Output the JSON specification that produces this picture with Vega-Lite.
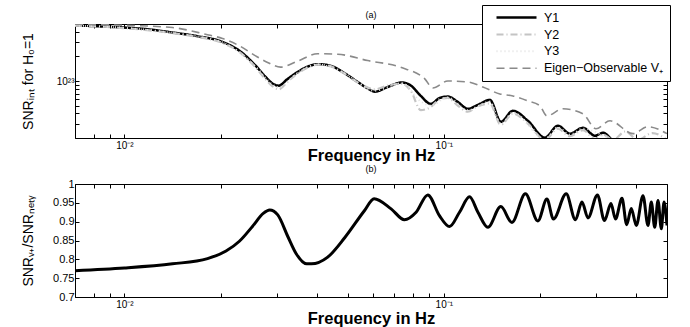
{
  "$schema": "https://vega.github.io/schema/vega-lite/v6.json",
  "padding": {"left": 20, "top": 4, "right": 5, "bottom": 2},
  "config": {
    "font": "Liberation Sans",
    "view": {"stroke": "black", "strokeWidth": 1},
    "axis": {"grid": false, "domain": false, "tickColor": "black", "tickSize": -4, "labelFontSize": 10, "labelColor": "black", "labelFont": "Liberation Sans", "titleFont": "Liberation Sans", "titleColor": "black", "titleFontWeight": "normal"},
    "title": {"fontSize": 9, "fontWeight": "normal", "offset": 4, "font": "Liberation Sans", "color": "black"}
  },
  "datasets": {
    "top": [
      {"s":"Y1","f":0.007,"v":4.82e23},{"s":"Y1","f":0.00823,"v":4.69e23},{"s":"Y1","f":0.01,"v":4.52e23},{"s":"Y1","f":0.0118,"v":4.31e23},{"s":"Y1","f":0.01414,"v":3.93e23},{"s":"Y1","f":0.01694,"v":3.54e23},{"s":"Y1","f":0.02028,"v":3.01e23},{"s":"Y1","f":0.02294,"v":2.34e23},{"s":"Y1","f":0.02575,"v":1.54e23},{"s":"Y1","f":0.02767,"v":1.12e23},{"s":"Y1","f":0.0291,"v":9.32e22},{"s":"Y1","f":0.03039,"v":8.76e22},{"s":"Y1","f":0.03243,"v":1.06e23},{"s":"Y1","f":0.03486,"v":1.29e23},{"s":"Y1","f":0.03747,"v":1.5e23},{"s":"Y1","f":0.04027,"v":1.61e23},{"s":"Y1","f":0.04391,"v":1.55e23},{"s":"Y1","f":0.04824,"v":1.29e23},{"s":"Y1","f":0.05376,"v":9.72e22},{"s":"Y1","f":0.05778,"v":8.1e22},{"s":"Y1","f":0.06076,"v":7.4e22},{"s":"Y1","f":0.06676,"v":8.45e22},{"s":"Y1","f":0.07383,"v":9.59e22},{"s":"Y1","f":0.0788,"v":8.81e22},{"s":"Y1","f":0.08472,"v":6.56e22},{"s":"Y1","f":0.09105,"v":5.24e22},{"s":"Y1","f":0.09716,"v":6.21e22},{"s":"Y1","f":0.1029,"v":6.44e22},{"s":"Y1","f":0.1106,"v":5.54e22},{"s":"Y1","f":0.1189,"v":4.56e22},{"s":"Y1","f":0.1279,"v":5.1e22},{"s":"Y1","f":0.1394,"v":5.87e22},{"s":"Y1","f":0.1509,"v":3.16e22},{"s":"Y1","f":0.1646,"v":4.31e22},{"s":"Y1","f":0.1834,"v":3.25e22},{"s":"Y1","f":0.2073,"v":2.02e22},{"s":"Y1","f":0.2277,"v":2.83e22},{"s":"Y1","f":0.2483,"v":2.26e22},{"s":"Y1","f":0.2728,"v":2.67e22},{"s":"Y1","f":0.2974,"v":2.13e22},{"s":"Y1","f":0.3151,"v":2.32e22},{"s":"Y1","f":0.3387,"v":1.85e22},{"s":"Y1","f":0.4057,"v":1.4e22},{"s":"Y1","f":0.5,"v":1.06e22},
      {"s":"Y2","f":0.007,"v":4.78e23},{"s":"Y2","f":0.01,"v":4.45e23},{"s":"Y2","f":0.01414,"v":3.86e23},{"s":"Y2","f":0.01694,"v":3.47e23},{"s":"Y2","f":0.02028,"v":2.93e23},{"s":"Y2","f":0.02294,"v":2.26e23},{"s":"Y2","f":0.02575,"v":1.47e23},{"s":"Y2","f":0.02767,"v":1.05e23},{"s":"Y2","f":0.0291,"v":8.6e22},{"s":"Y2","f":0.03039,"v":7.9e22},{"s":"Y2","f":0.03243,"v":9.8e22},{"s":"Y2","f":0.03486,"v":1.24e23},{"s":"Y2","f":0.03747,"v":1.46e23},{"s":"Y2","f":0.04027,"v":1.59e23},{"s":"Y2","f":0.04391,"v":1.53e23},{"s":"Y2","f":0.04824,"v":1.27e23},{"s":"Y2","f":0.05376,"v":9.6e22},{"s":"Y2","f":0.05778,"v":8.3e22},{"s":"Y2","f":0.06076,"v":7.9e22},{"s":"Y2","f":0.06676,"v":8.8e22},{"s":"Y2","f":0.07383,"v":9.3e22},{"s":"Y2","f":0.0788,"v":7.6e22},{"s":"Y2","f":0.08472,"v":4.4e22},{"s":"Y2","f":0.09105,"v":4.8e22},{"s":"Y2","f":0.09716,"v":6.0e22},{"s":"Y2","f":0.1029,"v":6.2e22},{"s":"Y2","f":0.1106,"v":5.0e22},{"s":"Y2","f":0.1189,"v":4.2e22},{"s":"Y2","f":0.1279,"v":4.9e22},{"s":"Y2","f":0.1394,"v":5.3e22},{"s":"Y2","f":0.1509,"v":2.9e22},{"s":"Y2","f":0.1646,"v":4.0e22},{"s":"Y2","f":0.1834,"v":3.0e22},{"s":"Y2","f":0.2073,"v":1.9e22},{"s":"Y2","f":0.2277,"v":2.6e22},{"s":"Y2","f":0.2483,"v":2.1e22},{"s":"Y2","f":0.2728,"v":2.5e22},{"s":"Y2","f":0.2974,"v":1.95e22},{"s":"Y2","f":0.3151,"v":2.2e22},{"s":"Y2","f":0.3387,"v":1.9e22},{"s":"Y2","f":0.37,"v":2.4e22},{"s":"Y2","f":0.4057,"v":1.9e22},{"s":"Y2","f":0.45,"v":2.3e22},{"s":"Y2","f":0.5,"v":1.9e22},
      {"s":"Y3","f":0.007,"v":4.8e23},{"s":"Y3","f":0.01,"v":4.48e23},{"s":"Y3","f":0.01414,"v":3.89e23},{"s":"Y3","f":0.02028,"v":2.97e23},{"s":"Y3","f":0.02575,"v":1.5e23},{"s":"Y3","f":0.0291,"v":9.0e22},{"s":"Y3","f":0.03039,"v":8.4e22},{"s":"Y3","f":0.03486,"v":1.26e23},{"s":"Y3","f":0.04027,"v":1.6e23},{"s":"Y3","f":0.04824,"v":1.28e23},{"s":"Y3","f":0.06076,"v":7.6e22},{"s":"Y3","f":0.07383,"v":9.4e22},{"s":"Y3","f":0.08472,"v":5.6e22},{"s":"Y3","f":0.09105,"v":5.0e22},{"s":"Y3","f":0.1029,"v":6.3e22},{"s":"Y3","f":0.1189,"v":4.4e22},{"s":"Y3","f":0.1394,"v":5.6e22},{"s":"Y3","f":0.1509,"v":3.0e22},{"s":"Y3","f":0.1646,"v":4.1e22},{"s":"Y3","f":0.2073,"v":1.95e22},{"s":"Y3","f":0.2277,"v":2.7e22},{"s":"Y3","f":0.2483,"v":2.2e22},{"s":"Y3","f":0.2728,"v":2.6e22},{"s":"Y3","f":0.3387,"v":1.9e22},{"s":"Y3","f":0.5,"v":1.5e22},
      {"s":"Eigen−Observable V₊","f":0.007,"v":4.96e23},{"s":"Eigen−Observable V₊","f":0.01,"v":4.82e23},{"s":"Eigen−Observable V₊","f":0.01414,"v":4.52e23},{"s":"Eigen−Observable V₊","f":0.01794,"v":3.74e23},{"s":"Eigen−Observable V₊","f":0.02028,"v":3.32e23},{"s":"Eigen−Observable V₊","f":0.02294,"v":2.69e23},{"s":"Eigen−Observable V₊","f":0.02575,"v":2.03e23},{"s":"Eigen−Observable V₊","f":0.02807,"v":1.69e23},{"s":"Eigen−Observable V₊","f":0.03083,"v":1.48e23},{"s":"Eigen−Observable V₊","f":0.03486,"v":1.75e23},{"s":"Eigen−Observable V₊","f":0.04027,"v":2.16e23},{"s":"Eigen−Observable V₊","f":0.04653,"v":2.13e23},{"s":"Eigen−Observable V₊","f":0.05778,"v":1.78e23},{"s":"Eigen−Observable V₊","f":0.0733,"v":1.47e23},{"s":"Eigen−Observable V₊","f":0.08719,"v":1.06e23},{"s":"Eigen−Observable V₊","f":0.09237,"v":8.22e22},{"s":"Eigen−Observable V₊","f":0.1029,"v":1.0e23},{"s":"Eigen−Observable V₊","f":0.1189,"v":9.72e22},{"s":"Eigen−Observable V₊","f":0.1325,"v":8.45e22},{"s":"Eigen−Observable V₊","f":0.1498,"v":6.94e22},{"s":"Eigen−Observable V₊","f":0.1646,"v":6.56e22},{"s":"Eigen−Observable V₊","f":0.1834,"v":5.7e22},{"s":"Eigen−Observable V₊","f":0.2,"v":4.96e22},{"s":"Eigen−Observable V₊","f":0.2103,"v":3.74e22},{"s":"Eigen−Observable V₊","f":0.236,"v":4.56e22},{"s":"Eigen−Observable V₊","f":0.2728,"v":3.96e22},{"s":"Eigen−Observable V₊","f":0.2996,"v":2.6e22},{"s":"Eigen−Observable V₊","f":0.3315,"v":3.25e22},{"s":"Eigen−Observable V₊","f":0.3913,"v":2.26e22},{"s":"Eigen−Observable V₊","f":0.436,"v":2.75e22},{"s":"Eigen−Observable V₊","f":0.5,"v":2.26e22}
    ],
    "bottom": [
      {"f":0.007,"r":0.77},{"f":0.01,"r":0.777},{"f":0.01414,"r":0.788},{"f":0.0182,"r":0.802},{"f":0.0208,"r":0.822},{"f":0.0229,"r":0.848},{"f":0.0252,"r":0.888},{"f":0.0272,"r":0.922},{"f":0.0285,"r":0.931},{"f":0.0302,"r":0.918},{"f":0.0325,"r":0.86},{"f":0.0345,"r":0.815},{"f":0.0372,"r":0.788},{"f":0.0385,"r":0.788},{"f":0.0433,"r":0.806},{"f":0.049,"r":0.858},{"f":0.0564,"r":0.929},{"f":0.0605,"r":0.961},{"f":0.0684,"r":0.934},{"f":0.0753,"r":0.905},{"f":0.0819,"r":0.925},{"f":0.0891,"r":0.971},{"f":0.0969,"r":0.916},{"f":0.1042,"r":0.887},{"f":0.112,"r":0.925},{"f":0.1204,"r":0.966},{"f":0.1279,"r":0.925},{"f":0.1374,"r":0.885},{"f":0.1509,"r":0.94},{"f":0.1634,"r":0.898},{"f":0.1801,"r":0.974},{"f":0.1971,"r":0.902},{"f":0.2103,"r":0.96},{"f":0.2204,"r":0.907},{"f":0.2417,"r":0.974},{"f":0.2584,"r":0.905},{"f":0.2708,"r":0.952},{"f":0.2828,"r":0.91},{"f":0.3028,"r":0.971},{"f":0.3185,"r":0.903},{"f":0.3338,"r":0.948},{"f":0.3448,"r":0.907},{"f":0.3614,"r":0.962},{"f":0.3739,"r":0.892},{"f":0.3865,"r":0.935},{"f":0.4007,"r":0.89},{"f":0.4205,"r":0.969},{"f":0.436,"r":0.89},{"f":0.4465,"r":0.952},{"f":0.4576,"r":0.885},{"f":0.4686,"r":0.956},{"f":0.48,"r":0.881},{"f":0.4895,"r":0.952},{"f":0.5,"r":0.89}
    ]
  },
  "spacing": 46,
  "bounds": "flush",
  "vconcat": [
    {
      "width": 592,
      "height": 114,
      "title": {"text": "(a)"},
      "data": {"name": "top"},
      "layer": [
        {
          "mark": {"type": "line", "clip": true, "interpolate": "monotone"},
          "encoding": {
            "x": {"field": "f", "type": "quantitative", "scale": {"type": "log", "domain": [0.007, 0.5], "nice": false},
              "axis": {"values": [0.007,0.008,0.009,0.01,0.02,0.03,0.04,0.05,0.06,0.07,0.08,0.09,0.1,0.2,0.3,0.4,0.5], "labelExpr": "datum.value == 0.01 ? '10⁻²' : (datum.value == 0.1 ? '10⁻¹' : '')", "labelPadding": 6, "title": "Frequency in Hz", "titleFontSize": 16.5, "titleFontWeight": "bold", "titleBaseline": "alphabetic", "titleY": 22}},
            "y": {"field": "v", "type": "quantitative", "scale": {"type": "log", "domain": [2e22, 5e23], "nice": false},
              "axis": {"values": [2e22,3e22,4e22,5e22,6e22,7e22,8e22,9e22,1e23,2e23,3e23,4e23,5e23], "labelExpr": "datum.value == 1e23 ? '10²³' : ''", "labelPadding": 5, "title": "SNRᵢₙₜ for H₀=1", "titleFontSize": 14, "titleBaseline": "middle", "titleX": -47}},
            "color": {"field": "s", "type": "nominal", "scale": {"domain": ["Y1","Y2","Y3","Eigen−Observable V₊"], "range": ["#000000","#c4c4c4","#e2e2e2","#8a8a8a"]},
              "legend": {"orient": "none", "legendX": 407, "legendY": -19, "title": null, "strokeColor": "black", "fillColor": "white", "padding": 6, "rowPadding": 4, "symbolType": "M-4,0H4", "symbolSize": 100, "symbolOffset": 22, "labelOffset": 21, "labelFontSize": 12.5, "labelFont": "Liberation Sans", "labelColor": "black", "labelLimit": 300}},
            "strokeDash": {"field": "s", "type": "nominal", "scale": {"domain": ["Y1","Y2","Y3","Eigen−Observable V₊"], "range": [[1,0],[7,3,1,3],[1,3],[8,5]]}},
            "strokeWidth": {"field": "s", "type": "nominal", "scale": {"domain": ["Y1","Y2","Y3","Eigen−Observable V₊"], "range": [2.5,1.6,1.6,2.2]}}
          }
        },
        {
          "mark": {"type": "line", "strokeOpacity": 0},
          "encoding": {
            "x": {"field": "f", "type": "quantitative", "axis": {"orient": "top", "values": [0.007,0.008,0.009,0.01,0.02,0.03,0.04,0.05,0.06,0.07,0.08,0.09,0.1,0.2,0.3,0.4,0.5], "labels": false, "title": null}},
            "y": {"field": "v", "type": "quantitative", "axis": {"orient": "right", "values": [2e22,3e22,4e22,5e22,6e22,7e22,8e22,9e22,1e23,2e23,3e23,4e23,5e23], "labels": false, "title": null}}
          }
        }
      ],
      "resolve": {"axis": {"x": "independent", "y": "independent"}}
    },
    {
      "width": 592,
      "height": 113,
      "title": {"text": "(b)"},
      "data": {"name": "bottom"},
      "layer": [
        {
          "mark": {"type": "line", "clip": true, "interpolate": "monotone", "color": "black", "strokeWidth": 3},
          "encoding": {
            "x": {"field": "f", "type": "quantitative", "scale": {"type": "log", "domain": [0.007, 0.5], "nice": false},
              "axis": {"values": [0.007,0.008,0.009,0.01,0.02,0.03,0.04,0.05,0.06,0.07,0.08,0.09,0.1,0.2,0.3,0.4,0.5], "labelExpr": "datum.value == 0.01 ? '10⁻²' : (datum.value == 0.1 ? '10⁻¹' : '')", "labelPadding": 6, "title": "Frequency in Hz", "titleFontSize": 16.5, "titleFontWeight": "bold", "titleBaseline": "alphabetic", "titleY": 26}},
            "y": {"field": "r", "type": "quantitative", "scale": {"domain": [0.7, 1], "nice": false},
              "axis": {"values": [0.7,0.75,0.8,0.85,0.9,0.95,1], "format": "~g", "labelFontSize": 11, "labelPadding": 5, "title": "SNRᵥ₊/SNRₙₑₜᵧ", "titleFontSize": 14, "titleBaseline": "middle", "titleX": -47}}
          }
        },
        {
          "mark": {"type": "line", "strokeOpacity": 0},
          "encoding": {
            "x": {"field": "f", "type": "quantitative", "axis": {"orient": "top", "values": [0.007,0.008,0.009,0.01,0.02,0.03,0.04,0.05,0.06,0.07,0.08,0.09,0.1,0.2,0.3,0.4,0.5], "labels": false, "title": null}},
            "y": {"field": "r", "type": "quantitative", "axis": {"orient": "right", "values": [0.7,0.75,0.8,0.85,0.9,0.95,1], "labels": false, "title": null}}
          }
        }
      ],
      "resolve": {"axis": {"x": "independent", "y": "independent"}}
    }
  ]
}
